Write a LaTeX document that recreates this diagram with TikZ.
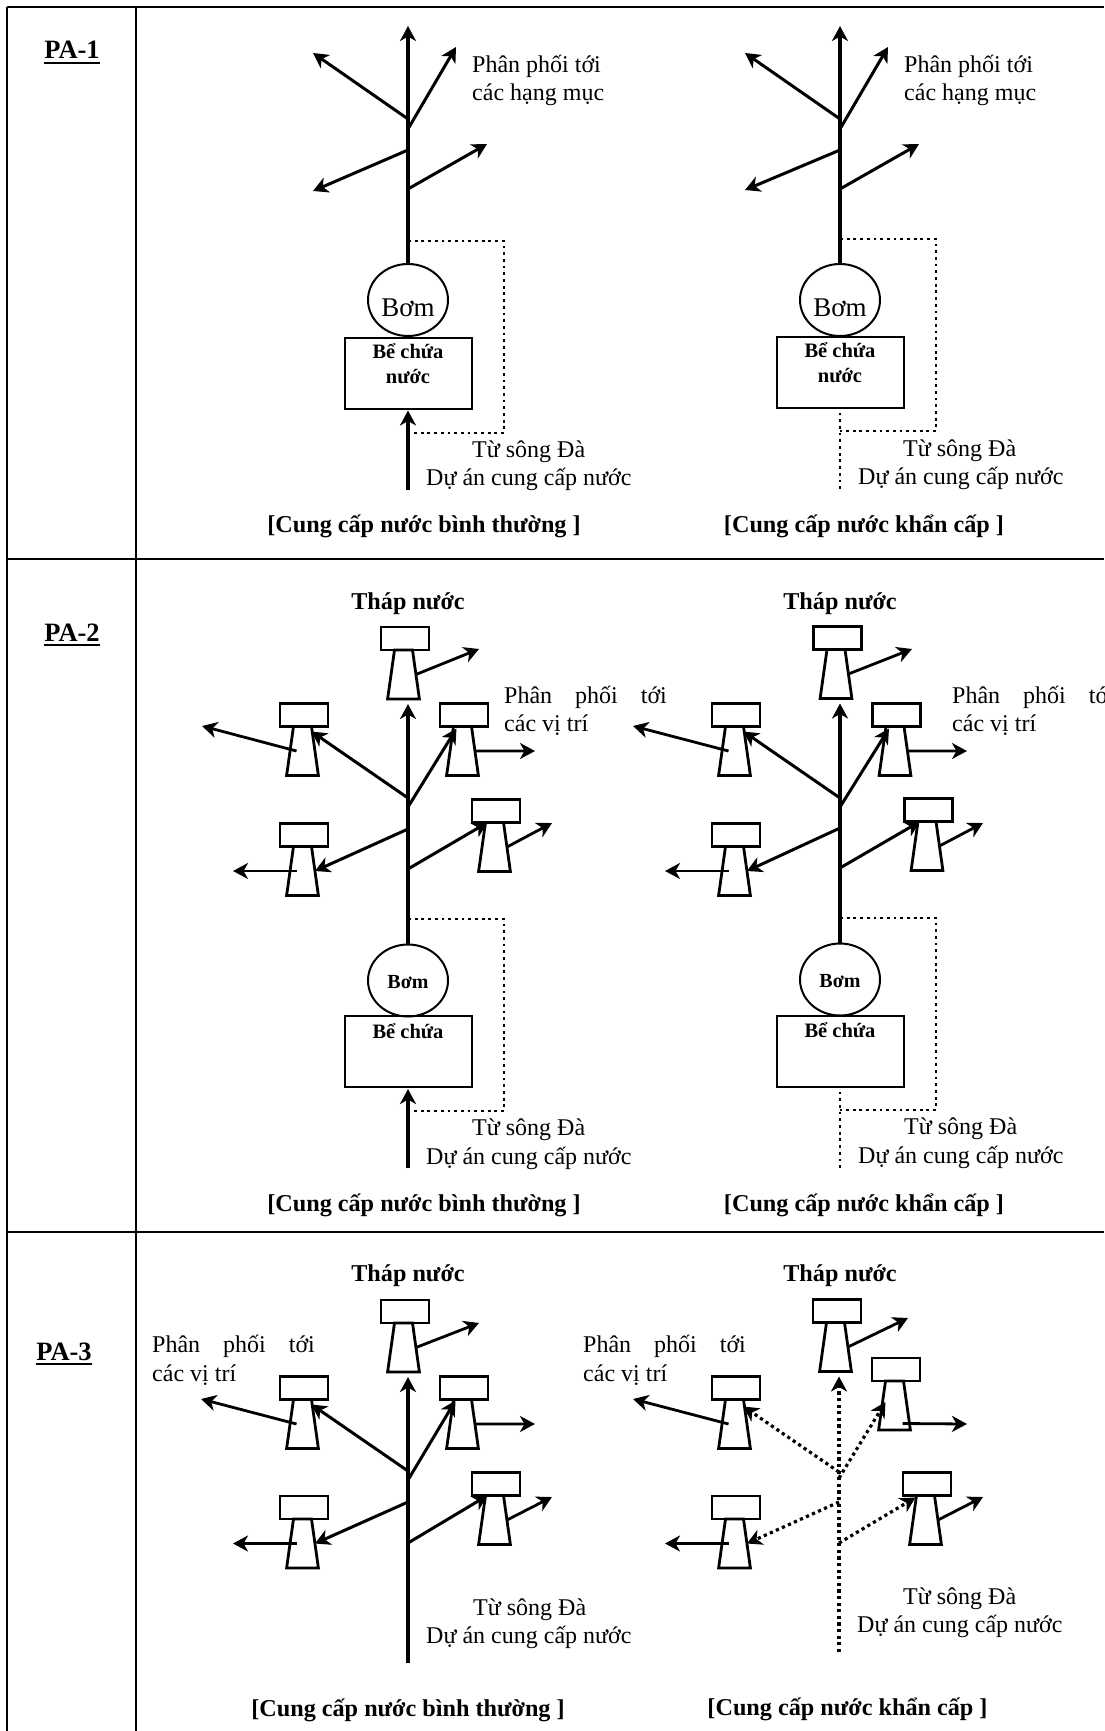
\documentclass[tikz,border=0pt]{standalone}
\usepackage{fontspec}
\setmainfont{Liberation Serif}
\usepackage{tikz}
\usetikzlibrary{
	shapes.geometric,
	arrows.meta,
	positioning
}

\begin{document}
\begin{tikzpicture}[
        x=1pt, y=-1pt,
        >={Stealth[length=15pt,width=16pt,inset=4.5pt]},
        font=\fontsize{24}{28}\selectfont,
        % table lines
        gridline/.style={line width=2pt},
        % pipes
        trunk/.style={line width=3.3pt},
        branch/.style={line width=3pt},
        outlet/.style={line width=2.8pt},
        dotline/.style={line width=2.8pt, dash pattern=on 2.8pt off 3.9pt},
        dotbranch/.style={line width=3.2pt, dash pattern=on 3.2pt off 3.4pt},
        % equipment
        towerhead/.style={
            rectangle, draw, line width=2.8pt,
            minimum width=48pt, minimum height=23pt,
            inner sep=0pt, outer sep=0pt
        },
        towerbody/.style={
            trapezium, draw, line width=2.8pt,
            trapezium angle=82,
            text width=18pt, text height=49pt, text depth=0pt,
            inner sep=0pt, outer sep=0pt, xshift=-1.5pt
        },
        pump/.style={
            ellipse, draw, line width=2pt,
            minimum width=80pt, minimum height=72pt,
            inner sep=0pt
        },
        tank/.style={
            rectangle, draw, line width=2pt,
            minimum width=127pt, minimum height=71pt,
            inner sep=0pt
        },
        % text
        lbl/.style={anchor=base west, inner sep=0pt},
        title/.style={anchor=base, inner sep=0pt, font=\fontsize{24.2}{28}\selectfont\bfseries},
        panel/.style={anchor=base, inner sep=0pt, font=\fontsize{26.5}{30}\selectfont\bfseries},
        tanklbl/.style={align=center, inner sep=0pt, font=\fontsize{20.5}{24.5}\selectfont\bfseries},
        pumplbl/.style={inner sep=0pt, font=\fontsize{27}{30}\selectfont},
        pumpbold/.style={inner sep=0pt, font=\fontsize{20}{24}\selectfont\bfseries}
    ]

        \clip (0,0) rectangle (1104,1731);

        % ====================
        % Table
        % ====================

        \draw[gridline] (7,7) -- (1104,7);
        \draw[gridline] (7,559) -- (1104,559);
        \draw[gridline] (7,1232) -- (1104,1232);
        \draw[gridline] (7,7) -- (7,1731);
        \draw[gridline] (136,7) -- (136,1731);

        \node[panel] (PA1) at (72,59) {PA-1};
        \node[panel] (PA2) at (72,641) {PA-2};
        \node[panel] (PA3) at (64,1360) {PA-3};
        \draw[line width=2.5pt] ([yshift=-4pt]PA1.base west) -- ([yshift=-4pt]PA1.base east);
        \draw[line width=2.5pt] ([yshift=-4pt]PA2.base west) -- ([yshift=-4pt]PA2.base east);
        \draw[line width=2.5pt] ([yshift=-4pt]PA3.base west) -- ([yshift=-4pt]PA3.base east);

        % ====================
        % PA-1, normal supply
        % ====================

        \node[pump] (A0p) at (408,300) {};
        \node[pumplbl] (A0m) at ([yshift=-8pt]A0p.center) {Bơm};
        \node[tank] (A0k) at (408,373) {};
        \node[tanklbl, below=7pt of A0k.north] (A0l) {Bể chứa\\nước};

        \coordinate (A0t) at (408,26);
        \coordinate (A1) at (408,119);  \coordinate (A1o) at (313,53);
        \coordinate (A2) at (408,129);  \coordinate (A2o) at (456,47);
        \coordinate (A3) at (408,150);  \coordinate (A3o) at (313,191);
        \coordinate (A4) at (408,189);  \coordinate (A4o) at (487,144);
        \coordinate (A5) at (408,241);  \coordinate (A6) at (504,433);
        \coordinate (A7) at (408,433);  \coordinate (A8) at (408,490);

        \draw[->, trunk] (A0p.north) -- (A0t);
        \draw[->, branch] (A1) -- (A1o);
        \draw[->, branch] (A2) -- (A2o);
        \draw[->, branch] (A3) -- (A3o);
        \draw[->, branch] (A4) -- (A4o);
        \draw[dotline] (A5) -| (A6) -- (A7);
        \draw[->, trunk] (A8) -- ([yshift=-1pt]A0k.south);

        \node[lbl] (A0a) at (472,73) {Phân phối tới};
        \node[lbl] (A0b) at (472,101) {các hạng mục};
        \node[lbl] (A0c) at (472,457) {Từ sông Đà};
        \node[lbl] (A0d) at (426,485) {Dự án cung cấp nước};
        \node[title] (A0e) at (424,532) {[Cung cấp nước bình thường ]};

        % ====================
        % PA-1, emergency supply
        % ====================

        \node[pump] (B0p) at (840,300) {};
        \node[pumplbl] (B0m) at ([yshift=-8pt]B0p.center) {Bơm};
        \node[tank] (B0k) at (840,372) {};
        \node[tanklbl, below=7pt of B0k.north] (B0l) {Bể chứa\\nước};

        \coordinate (B0t) at (840,26);
        \coordinate (B1) at (840,119);  \coordinate (B1o) at (745,53);
        \coordinate (B2) at (840,129);  \coordinate (B2o) at (888,47);
        \coordinate (B3) at (840,150);  \coordinate (B3o) at (745,190);
        \coordinate (B4) at (840,189);  \coordinate (B4o) at (919,144);
        \coordinate (B5) at (840,239);  \coordinate (B6) at (936,431);
        \coordinate (B7) at (840,431);  \coordinate (B8) at (840,490);

        \draw[->, trunk] (B0p.north) -- (B0t);
        \draw[->, branch] (B1) -- (B1o);
        \draw[->, branch] (B2) -- (B2o);
        \draw[->, branch] (B3) -- (B3o);
        \draw[->, branch] (B4) -- (B4o);
        \draw[dotline] (B5) -| (B6) -- (B7);
        \draw[dotline] ([yshift=-4pt]B0k.south) -- (B8);

        \node[lbl] (B0a) at (904,73) {Phân phối tới};
        \node[lbl] (B0b) at (904,101) {các hạng mục};
        \node[lbl] (B0c) at (903,456) {Từ sông Đà};
        \node[lbl] (B0d) at (858,484) {Dự án cung cấp nước};
        \node[title] (B0e) at (864,532) {[Cung cấp nước khẩn cấp ]};

        % ====================
        % PA-2, normal supply
        % ====================

        \node[title] (C0a) at (408,609) {Tháp nước};

        \node[towerhead] (C0) at (405,638.5) {};  \node[towerbody, below=0pt of C0] (C0b) {};
        \node[towerhead] (C1) at (304,715) {};    \node[towerbody, below=0pt of C1] (C1b) {};
        \node[towerhead] (C2) at (464,715) {};    \node[towerbody, below=0pt of C2] (C2b) {};
        \node[towerhead] (C3) at (304,835) {};    \node[towerbody, below=0pt of C3] (C3b) {};
        \node[towerhead] (C4) at (496,811) {};    \node[towerbody, below=0pt of C4] (C4b) {};

        \node[pump] (C0p) at (408,980.5) {};
        \node[pumpbold] (C0m) at ([yshift=-1.5pt]C0p.center) {Bơm};
        \node[tank] (C0k) at (408,1051.5) {};
        \node[tanklbl, below=8pt of C0k.north] (C0l) {Bể chứa};

        \coordinate (C1j) at (408,798);
        \coordinate (C2j) at (408,807);
        \coordinate (C3j) at (408,829);
        \coordinate (C4j) at (408,869);
        \coordinate (C5) at (408,919);  \coordinate (C6) at (504,1111);
        \coordinate (C7) at (408,1111); \coordinate (C8) at (408,1168);
        \coordinate (C0o) at (479,649);
        \coordinate (C1o) at (202,726);
        \coordinate (C2o) at (535,751);
        \coordinate (C3o) at (233,871);
        \coordinate (C4o) at (552,823);

        \draw[->, trunk] (C0p.north) -- ([yshift=-5pt]C0p.north |- C0b.south);
        \draw[->, branch] (C1j) -- ([yshift=-5pt]C1b.top right corner);
        \draw[->, branch] (C2j) -- ([xshift=3pt,yshift=-2pt]C2b.top left corner);
        \draw[->, branch] (C3j) -- (C3b.east);
        \draw[->, branch] (C4j) -- ([xshift=2pt]C4b.top left corner);
        \draw[->, outlet] (C0b.east) -- (C0o);
        \draw[->, outlet] ([xshift=-6pt]C1b.center) -- (C1o);
        \draw[->, outlet] (C2b.east) -- (C2o);
        \draw[->, outlet] ([xshift=-6pt]C3b.center) -- (C3o);
        \draw[->, outlet] (C4b.east) -- (C4o);
        \draw[dotline] (C5) -| (C6) -- (C7);
        \draw[->, trunk] (C8) -- ([yshift=-1pt]C0k.south);

        \node[lbl] (C0c) at (504,703) {Phân\hspace{23pt}phối\hspace{23pt}tới};
        \node[lbl] (C0d) at (504,731) {các vị trí};
        \node[lbl] (C0e) at (472,1135) {Từ sông Đà};
        \node[lbl] (C0f) at (426,1164) {Dự án cung cấp nước};
        \node[title] (C0g) at (424,1211) {[Cung cấp nước bình thường ]};

        % ====================
        % PA-2, emergency supply
        % ====================

        \node[title] (D0a) at (840,609) {Tháp nước};

        \node[towerhead] (D0) at (837.5,638) {};  \node[towerbody, below=0pt of D0] (D0b) {};
        \node[towerhead] (D1) at (736,715) {};    \node[towerbody, below=0pt of D1] (D1b) {};
        \node[towerhead] (D2) at (896.5,715) {};  \node[towerbody, below=0pt of D2] (D2b) {};
        \node[towerhead] (D3) at (736,835) {};    \node[towerbody, below=0pt of D3] (D3b) {};
        \node[towerhead] (D4) at (928.5,810) {};  \node[towerbody, below=0pt of D4] (D4b) {};

        \node[pump] (D0p) at (840,979.5) {};
        \node[pumpbold] (D0m) at ([yshift=-1.5pt]D0p.center) {Bơm};
        \node[tank] (D0k) at (840,1051) {};
        \node[tanklbl, below=8pt of D0k.north] (D0l) {Bể chứa};

        \coordinate (D1j) at (840,798);
        \coordinate (D2j) at (840,807);
        \coordinate (D3j) at (840,828);
        \coordinate (D4j) at (840,868);
        \coordinate (D5) at (840,918);  \coordinate (D6) at (936,1110);
        \coordinate (D7) at (840,1110); \coordinate (D8) at (840,1168);
        \coordinate (D0o) at (912,649);
        \coordinate (D1o) at (633,726);
        \coordinate (D2o) at (967,751);
        \coordinate (D3o) at (665,871);
        \coordinate (D4o) at (983,823);

        \draw[->, trunk] (D0p.north) -- ([yshift=-5pt]D0p.north |- D0b.south);
        \draw[->, branch] (D1j) -- ([yshift=-5pt]D1b.top right corner);
        \draw[->, branch] (D2j) -- ([xshift=3pt,yshift=-2pt]D2b.top left corner);
        \draw[->, branch] (D3j) -- (D3b.east);
        \draw[->, branch] (D4j) -- ([xshift=2pt]D4b.top left corner);
        \draw[->, outlet] (D0b.east) -- (D0o);
        \draw[->, outlet] ([xshift=-6pt]D1b.center) -- (D1o);
        \draw[->, outlet] (D2b.east) -- (D2o);
        \draw[->, outlet] ([xshift=-6pt]D3b.center) -- (D3o);
        \draw[->, outlet] (D4b.east) -- (D4o);
        \draw[dotline] (D5) -| (D6) -- (D7);
        \draw[dotline] ([yshift=-4pt]D0k.south) -- (D8);

        \node[lbl] (D0c) at (952,703) {Phân\hspace{23pt}phối\hspace{23pt}tới};
        \node[lbl] (D0d) at (952,731) {các vị trí};
        \node[lbl] (D0e) at (904,1134) {Từ sông Đà};
        \node[lbl] (D0f) at (858,1163) {Dự án cung cấp nước};
        \node[title] (D0g) at (864,1211) {[Cung cấp nước khẩn cấp ]};

        % ====================
        % PA-3, normal supply
        % ====================

        \node[title] (E0a) at (408,1281) {Tháp nước};

        \node[towerhead] (E0) at (405,1311.5) {};  \node[towerbody, below=0pt of E0] (E0b) {};
        \node[towerhead] (E1) at (304,1388) {};    \node[towerbody, below=0pt of E1] (E1b) {};
        \node[towerhead] (E2) at (464,1388) {};    \node[towerbody, below=0pt of E2] (E2b) {};
        \node[towerhead] (E3) at (304,1507.5) {};  \node[towerbody, below=0pt of E3] (E3b) {};
        \node[towerhead] (E4) at (496,1484) {};    \node[towerbody, below=0pt of E4] (E4b) {};

        \coordinate (E1j) at (408,1471);
        \coordinate (E2j) at (408,1480);
        \coordinate (E3j) at (408,1502);
        \coordinate (E4j) at (408,1543);
        \coordinate (E8) at (408,1663);
        \coordinate (E0o) at (479,1323);
        \coordinate (E1o) at (201,1399);
        \coordinate (E2o) at (535,1424);
        \coordinate (E3o) at (233,1543.5);
        \coordinate (E4o) at (552,1497);

        \draw[->, trunk] (E8) -- ([yshift=-5pt]E8 |- E0b.south);
        \draw[->, branch] (E1j) -- ([yshift=-5pt]E1b.top right corner);
        \draw[->, branch] (E2j) -- ([xshift=2pt,yshift=-1pt]E2b.top left corner);
        \draw[->, branch] (E3j) -- (E3b.east);
        \draw[->, branch] (E4j) -- ([xshift=2pt]E4b.top left corner);
        \draw[->, outlet] (E0b.east) -- (E0o);
        \draw[->, outlet] ([xshift=-6pt]E1b.center) -- (E1o);
        \draw[->, outlet] (E2b.east) -- (E2o);
        \draw[->, outlet] ([xshift=-6pt]E3b.center) -- (E3o);
        \draw[->, outlet] (E4b.east) -- (E4o);

        \node[lbl] (E0c) at (152,1352) {Phân\hspace{23pt}phối\hspace{23pt}tới};
        \node[lbl] (E0d) at (152,1381) {các vị trí};
        \node[lbl] (E0e) at (473,1615) {Từ sông Đà};
        \node[lbl] (E0f) at (426,1643) {Dự án cung cấp nước};
        \node[title] (E0g) at (408,1716) {[Cung cấp nước bình thường ]};

        % ====================
        % PA-3, emergency supply
        % ====================

        \node[title] (F0a) at (840,1281) {Tháp nước};

        \node[towerhead] (F0) at (837,1311) {};    \node[towerbody, below=0pt of F0] (F0b) {};
        \node[towerhead] (F1) at (736,1388) {};    \node[towerbody, below=0pt of F1] (F1b) {};
        \node[towerhead] (F2) at (896,1369.5) {};  \node[towerbody, below=0pt of F2] (F2b) {};
        \node[towerhead] (F3) at (736,1507.5) {};  \node[towerbody, below=0pt of F3] (F3b) {};
        \node[towerhead] (F4) at (927,1484) {};    \node[towerbody, below=0pt of F4] (F4b) {};

        \coordinate (F1j) at (839,1472);
        \coordinate (F2j) at (839,1478);
        \coordinate (F3j) at (839,1502);
        \coordinate (F4j) at (839,1543);
        \coordinate (F8) at (839,1652);
        \coordinate (F0o) at (908,1318);
        \coordinate (F1o) at (633,1399);
        \coordinate (F2o) at (967,1424);
        \coordinate (F3o) at (665,1543.5);
        \coordinate (F4o) at (983,1497);

        \draw[->, dotbranch] (F8) -- ([yshift=-5pt]F8 |- F0b.south);
        \draw[->, dotbranch] (F1j) -- ([yshift=-7pt]F1b.top right corner);
        \draw[->, dotbranch] (F2j) -- ([yshift=-21pt]F2b.top left corner);
        \draw[->, dotbranch] (F3j) -- (F3b.east);
        \draw[->, dotbranch] (F4j) -- ([xshift=-1pt,yshift=-2pt]F4b.top left corner);
        \draw[->, outlet] (F0b.east) -- (F0o);
        \draw[->, outlet] ([xshift=-6pt]F1b.center) -- (F1o);
        \draw[->, outlet] ([xshift=8pt,yshift=-18pt]F2b.center) -- (F2o);
        \draw[->, outlet] ([xshift=-6pt]F3b.center) -- (F3o);
        \draw[->, outlet] (F4b.east) -- (F4o);

        \node[lbl] (F0c) at (583,1352) {Phân\hspace{23pt}phối\hspace{23pt}tới};
        \node[lbl] (F0d) at (583,1381) {các vị trí};
        \node[lbl] (F0e) at (903,1604) {Từ sông Đà};
        \node[lbl] (F0f) at (857,1632) {Dự án cung cấp nước};
        \node[title] (F0g) at (847.5,1715) {[Cung cấp nước khẩn cấp ]};

    \end{tikzpicture}
\end{document}
